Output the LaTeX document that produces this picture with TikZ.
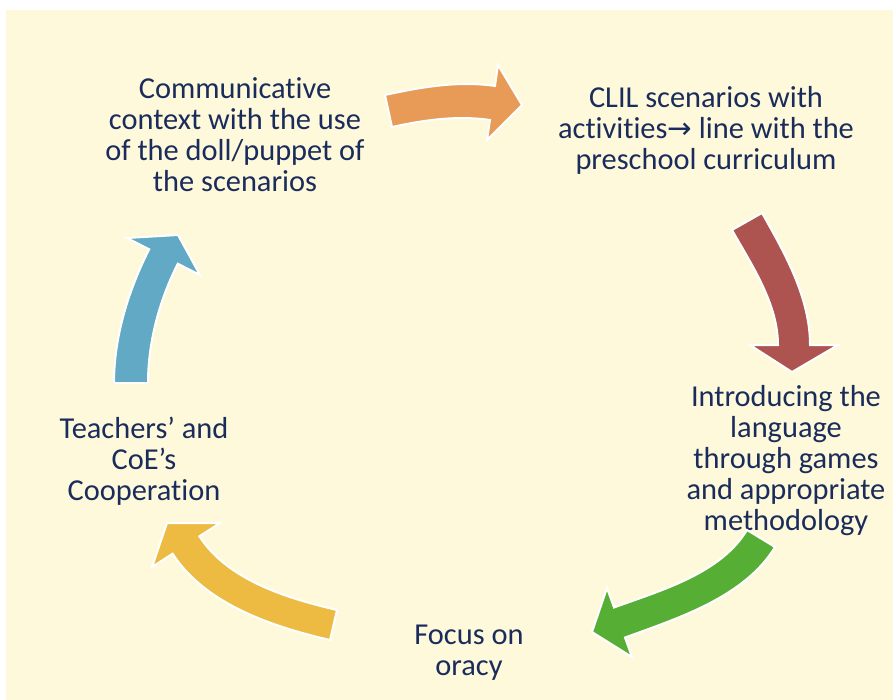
\documentclass[tikz,border=0pt]{standalone}
\usepackage{fontspec}
\setmainfont[Ligatures=NoCommon]{Carlito}
\newfontfamily\arrowfont{DejaVu Sans}
\definecolor{paper}{RGB}{254,249,218}
\definecolor{ink}{RGB}{26,44,91}
\definecolor{arrOrange}{RGB}{232,154,87}
\definecolor{arrRed}{RGB}{173,83,80}
\definecolor{arrGreen}{RGB}{87,174,53}
\definecolor{arrYellow}{RGB}{237,187,66}
\definecolor{arrBlue}{RGB}{98,169,198}
\tikzset{
  label/.style={align=center, text=ink, inner sep=0pt,
    font=\fontsize{22.8}{23.4}\selectfont},
  blockarrow/.style={draw=white, line width=1.5pt, line join=miter}
}
\begin{document}
\begin{tikzpicture}[x=0.75pt,y=-0.75pt]
% page and panel
\fill[white] (0,0) rectangle (893,700);
\fill[paper] (6,10) rectangle (893,700);
\useasboundingbox (0,0) rectangle (893,700);

% stage labels
\node[label] (comm)  at (235,134.5) {Communicative\\context with the use\\of the doll/puppet of\\the scenarios};
\node[label] (clil)  at (706,130.5) {CLIL scenarios with\\activities{\arrowfont\fontsize{22}{23.4}\selectfont →} line with the\\preschool curriculum};
\node[label] (intro) at (786,460.5) {Introducing the\\language\\through games\\and appropriate\\methodology};
\node[label] (focus) at (469,653) {Focus on\\oracy};
\node[label] (coop)  at (144,461) {Teachers’ and\\CoE’s\\Cooperation};

% curved block arrows of the cycle
\path[blockarrow, fill=arrOrange]
  (385,95) .. controls (421.1,87.1) and (458.4,80.6) .. (495,86)
  -- (498,65) -- (522,105) -- (487,140) -- (490,120)
  .. controls (457.4,115.2) and (424.2,119.9) .. (392,127) -- cycle;
\path[blockarrow, fill=arrRed]
  (762,213) .. controls (785.2,253.9) and (810,298) .. (810,345)
  -- (838,345) -- (792,372) -- (750,345) -- (778,345)
  .. controls (778,304) and (752.2,265.7) .. (732,230) -- cycle;
\path[blockarrow, fill=arrGreen]
  (775,547) .. controls (744.9,596.6) and (679.5,617.7) .. (625,637.5)
  -- (632,657) -- (592,632) -- (607,588) -- (614,607.5)
  .. controls (661.9,590.1) and (720.5,573.6) .. (747,530) -- cycle;
\path[blockarrow, fill=arrYellow]
  (330,640) .. controls (271.6,626.4) and (205.2,604.1) .. (172.6,553.7)
  -- (152,567) -- (167,523) -- (220,523) -- (199.4,536.3)
  .. controls (227.6,580) and (286.4,598.2) .. (337,610) -- cycle;
\path[blockarrow, fill=arrBlue]
  (114,383) .. controls (114,337) and (128.4,290.3) .. (149.2,249.3)
  -- (127,238) -- (178,235) -- (200,275) -- (177.8,263.7)
  .. controls (159.3,300.3) and (148,342) .. (148,383) -- cycle;
\end{tikzpicture}
\end{document}
